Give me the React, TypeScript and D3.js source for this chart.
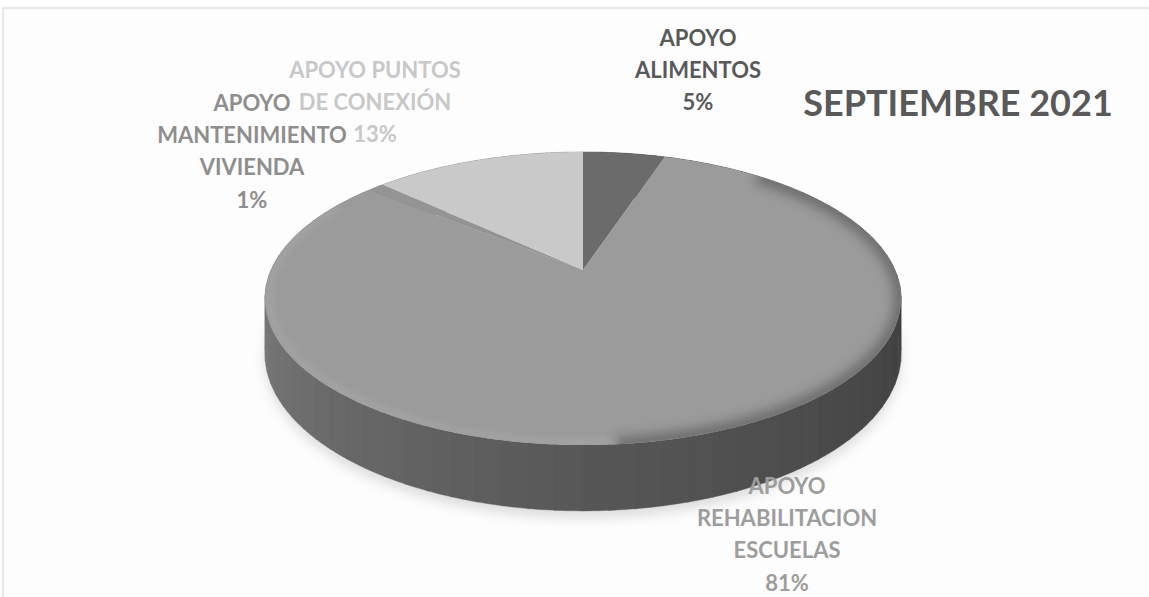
import React from "react";
import * as d3 from "d3";

// slice data (percent of total)
const categories = [
  "APOYO ALIMENTOS",
  "APOYO REHABILITACION ESCUELAS",
  "APOYO MANTENIMIENTO VIVIENDA",
  "APOYO PUNTOS DE CONEXIÓN",
];
const values = [5, 81, 1, 13];
const topColors = ["#6b6b6b", "#9b9b9b", "#949494", "#c9c9c9"];

const labelLines = [
  ["APOYO", "ALIMENTOS", "5%"],
  ["APOYO", "REHABILITACION", "ESCUELAS", "81%"],
  ["APOYO", "MANTENIMIENTO", "VIVIENDA", "1%"],
  ["APOYO PUNTOS", "DE CONEXIÓN", "13%"],
];
const labelColors = ["#595959", "#9d9d9d", "#8e8e8e", "#c8c8c8"];
// label anchor (center x, first baseline) – placed like Excel's outside labels
const labelPos = [
  [698, 46],
  [787, 494],
  [252, 111],
  [375, 78],
];
// draw order so that the small slice label sits on top of the 13% one
const labelOrder = [3, 2, 0, 1];

const title = "SEPTIEMBRE 2021";

const W = 1149;
const H = 597;
const cx = 583;
const cy = 270;
const R = 312;
const P = 5.14 * R; // perspective distance
const tilt = 0.452;
const depth = 53;

// project a point on the disc (angle clockwise from the back, radius, drop)
const proj = (a: number, r: number, drop = 0): [number, number] => {
  const x = r * Math.sin(a);
  const z = -r * Math.cos(a);
  const k = P / (P - z);
  return [cx + x * k, cy + z * tilt * k + drop * k];
};

const rimPath = (a0: number, a1: number, r: number, drop = 0) => {
  const n = Math.max(2, Math.ceil(((a1 - a0) * 180) / Math.PI));
  return d3.range(n + 1).map((i) => proj(a0 + ((a1 - a0) * i) / n, r, drop));
};

const sideColor = d3
  .scaleLinear<string>()
  .domain([Math.PI / 2, Math.PI, (3 * Math.PI) / 2])
  .range(["#3c3c3c", "#575757", "#7e7e7e"])
  .clamp(true);

const App = () => {
  const arcs = d3.pie<number>().sort(null).startAngle(0).endAngle(2 * Math.PI)(values);
  const line = d3.line();

  // side wall strips, back to front
  const step = (4 * Math.PI) / 180;
  const strips = d3.range(0, 2 * Math.PI, step).map((a) => {
    const a1 = Math.min(a + step + 0.004, 2 * Math.PI);
    const top = rimPath(a, a1, R);
    const bot = rimPath(a, a1, R, depth).reverse();
    const mid = a + step / 2;
    return { a, d: line([...top, ...bot]) + "Z", z: -Math.cos(mid), fill: sideColor(mid) };
  });
  strips.sort((p, q) => p.z - q.z);

  const topFace = line(rimPath(0, 2 * Math.PI, R)) + "Z";
  const shadow = line(rimPath(0, 2 * Math.PI, R, depth + 6)) + "Z";

  return (
    <svg
      width={W}
      height={H}
      style={{ position: "fixed", left: 0, top: 0, background: "#fff" }}
      fontFamily="Lato, 'Open Sans', sans-serif"
      fontWeight="bold"
    >
      <defs>
        <filter id="blur6" x="-20%" y="-20%" width="140%" height="140%">
          <feGaussianBlur stdDeviation="6" />
        </filter>
        <filter id="blur3" x="-20%" y="-20%" width="140%" height="140%">
          <feGaussianBlur stdDeviation="3" />
        </filter>
        <clipPath id="topClip">
          <path d={topFace} />
        </clipPath>
      </defs>
      <rect x={3} y={8} width={1160} height={600} fill="#fdfdfd" stroke="#d9d9d9" strokeWidth={1.2} />

      <path d={shadow} fill="#c8c8c8" opacity={0.6} filter="url(#blur6)" />

      {strips.map((s, i) => (
        <path key={i} d={s.d} fill={s.fill} stroke={s.fill} strokeWidth={0.4} />
      ))}

      {arcs.map((a, i) => {
        const pts: [number, number][] = [[cx, cy], ...rimPath(a.startAngle, a.endAngle, R)];
        return <path key={categories[i]} d={line(pts) + "Z"} fill={topColors[i]} />;
      })}

      {/* bevel on the top edge */}
      <g clipPath="url(#topClip)">
        <path
          d={line(rimPath((40 * Math.PI) / 180, (175 * Math.PI) / 180, R)) ?? ""}
          fill="none"
          stroke="#5e5e5e"
          strokeWidth={14}
          filter="url(#blur6)"
          opacity={0.8}
        />
        <path
          d={line(rimPath((175 * Math.PI) / 180, (300 * Math.PI) / 180, R - 4)) ?? ""}
          fill="none"
          stroke="#b4b4b4"
          strokeWidth={2}
          filter="url(#blur3)"
        />
      </g>

      {labelOrder.map((i) => (
        <text key={i} fill={labelColors[i]} fontSize={22} textAnchor="middle">
          {labelLines[i].map((t, j) => (
            <tspan key={j} x={labelPos[i][0]} y={labelPos[i][1] + j * 32.2}>
              {t}
            </tspan>
          ))}
        </text>
      ))}

      <text x={958} y={116} fill="#595959" fontSize={36} textAnchor="middle">
        {title}
      </text>
    </svg>
  );
};

export default App;
